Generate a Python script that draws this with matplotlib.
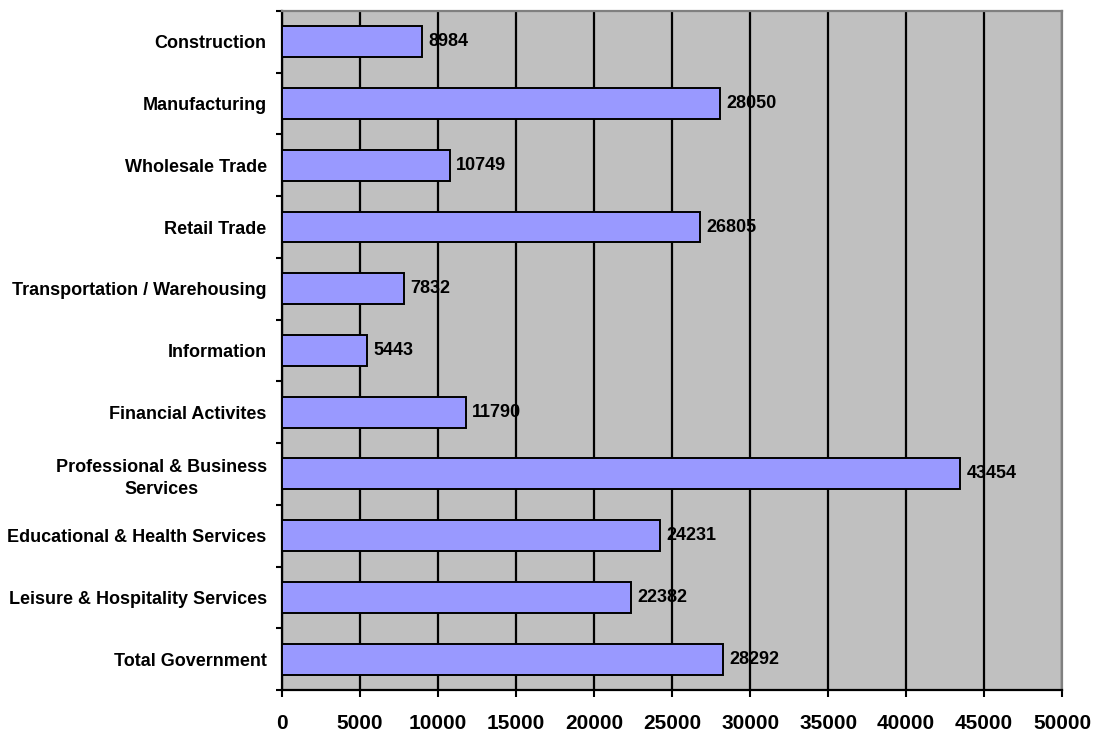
import matplotlib

matplotlib.use("Agg")
import matplotlib.pyplot as plt  # noqa: E402
import numpy as np  # noqa: E402

categories = [
    "Construction",
    "Manufacturing",
    "Wholesale Trade",
    "Retail Trade",
    "Transportation / Warehousing",
    "Information",
    "Financial Activites",
    "Professional & Business\nServices",
    "Educational & Health Services",
    "Leisure & Hospitality Services",
    "Total Government",
]
values = [8984, 28050, 10749, 26805, 7832, 5443, 11790, 43454, 24231, 22382, 28292]
x_ticks = [0, 5000, 10000, 15000, 20000, 25000, 30000, 35000, 40000, 45000, 50000]

plt.rcParams["font.family"] = ["Liberation Sans", "DejaVu Sans"]
plt.rcParams["font.weight"] = "bold"

fig = plt.figure(figsize=(10.95, 7.34), dpi=100)
ax = fig.add_axes([0.2575, 0.060, 0.7125, 0.925])
ax.set_facecolor("#C0C0C0")

y = np.arange(len(categories))
ax.barh(y, values, height=0.5, color="#9999FF", edgecolor="black", linewidth=1.4, zorder=3)
for yi, v in zip(y, values):
    ax.annotate(str(v), (v, yi), xytext=(4.5, 0), textcoords="offset points",
                ha="left", va="center", fontsize=13, fontweight="bold", zorder=4)

ax.set_xlim(0, 50000)
ax.set_ylim(len(categories) - 0.5, -0.5)
ax.set_xticks(x_ticks)
ax.set_xticklabels([str(t) for t in x_ticks], fontsize=15, fontweight="bold")
ax.set_yticks(y)
ax.set_yticklabels(categories, fontsize=13, fontweight="bold")
for lab in ax.get_yticklabels():
    lab.set_multialignment("center")
    lab.set_linespacing(1.4)
ax.set_yticks(np.arange(-0.5, len(categories)), minor=True)

ax.tick_params(axis="y", which="major", length=0, pad=11)
ax.tick_params(axis="y", which="minor", length=4, width=1.5, direction="out")
ax.tick_params(axis="x", length=5, width=1.5, direction="out", pad=12)

ax.grid(axis="x", color="black", linewidth=1.6, zorder=1)
ax.set_axisbelow(True)
for side in ["left", "bottom"]:
    ax.spines[side].set_color("black")
    ax.spines[side].set_linewidth(1.6)
for side in ["top", "right"]:
    ax.spines[side].set_color("#808080")
    ax.spines[side].set_linewidth(1.6)

fig.savefig("out.png", dpi=100)
